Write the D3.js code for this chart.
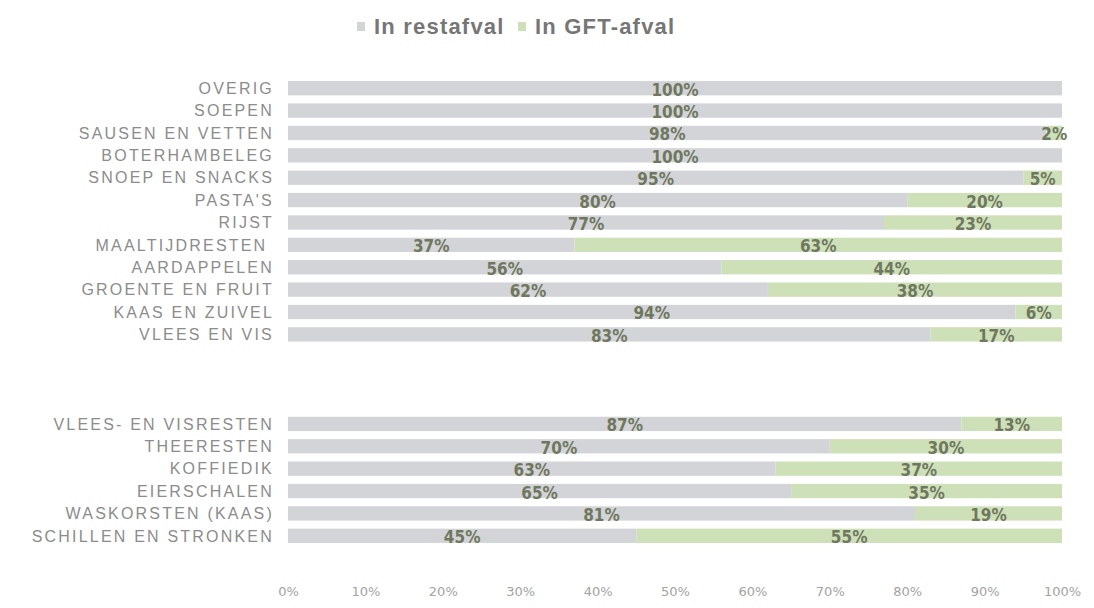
<!DOCTYPE html>
<html>
<head>
<meta charset="utf-8">
<script src="https://cdn.jsdelivr.net/npm/d3@7"></script>
<style>
  body { margin: 0; background: #fff; }
  svg { display: block; }
</style>
</head>
<body>
<svg id="chart" width="1094" height="608"></svg>
<script>
// two groups of categories, top to bottom
const foodCats = ['OVERIG', 'SOEPEN', 'SAUSEN EN VETTEN', 'BOTERHAMBELEG', 'SNOEP EN SNACKS',
    "PASTA'S", 'RIJST', 'MAALTIJDRESTEN ', 'AARDAPPELEN', 'GROENTE EN FRUIT', 'KAAS EN ZUIVEL', 'VLEES EN VIS'];
const foodRest = [100, 100, 98, 100, 95, 80, 77, 37, 56, 62, 94, 83];
const foodGft = [0, 0, 2, 0, 5, 20, 23, 63, 44, 38, 6, 17];

const restCats = ['VLEES- EN VISRESTEN', 'THEERESTEN', 'KOFFIEDIK', 'EIERSCHALEN', 'WASKORSTEN (KAAS)', 'SCHILLEN EN STRONKEN'];
const restRest = [87, 70, 63, 65, 81, 45];
const restGft = [13, 30, 37, 35, 19, 55];

const seriesNames = ['In restafval', 'In GFT-afval'];
const seriesColors = ['#d3d4d8', '#cde0b8'];
const xTicks = [0, 10, 20, 30, 40, 50, 60, 70, 80, 90, 100];

const svg = d3.select('#chart');

// rows: food group, three empty rows, rest group
const gapKeys = ['_gap1', '_gap2', '_gap3'];
const rows = foodCats.map((c, i) => ({cat: c, rest: foodRest[i], gft: foodGft[i]}))
    .concat(restCats.map((c, i) => ({cat: c, rest: restRest[i], gft: restGft[i]})));
const domain = foodCats.concat(gapKeys, restCats);

const x = d3.scaleLinear().domain([0, 100]).range([288, 1062]);
const y = d3.scaleBand().domain(domain).range([77, 547]).paddingInner(0.36).paddingOuter(0.18);

const g = svg.append('g');

// bars
const rowG = g.selectAll('.row').data(rows).enter().append('g')
    .attr('class', 'row')
    .attr('transform', d => 'translate(0,' + y(d.cat) + ')');

rowG.append('rect')
    .attr('x', x(0))
    .attr('width', d => x(d.rest) - x(0))
    .attr('height', y.bandwidth())
    .attr('fill', seriesColors[0]);

rowG.append('rect')
    .attr('x', d => x(d.rest))
    .attr('width', d => x(d.rest + d.gft) - x(d.rest))
    .attr('height', y.bandwidth())
    .attr('fill', seriesColors[1]);

// value labels
const labelStyle = sel => sel
    .attr('y', y.bandwidth() / 2 + 1)
    .attr('dy', '0.38em')
    .attr('text-anchor', 'middle')
    .style('font-family', '"DejaVu Sans Condensed", "Liberation Sans Narrow", Arial, sans-serif')
    .style('font-weight', 'bold')
    .style('font-size', '17px')
    .attr('fill', '#6f785f');

rowG.append('text')
    .call(labelStyle)
    .attr('x', d => (x(0) + x(d.rest)) / 2)
    .text(d => d.rest + '%');

rowG.filter(d => d.gft > 0).append('text')
    .call(labelStyle)
    .attr('x', d => (x(d.rest) + x(d.rest + d.gft)) / 2)
    .text(d => d.gft + '%');

// category labels
g.selectAll('.cat').data(rows).enter().append('text')
    .attr('class', 'cat')
    .attr('x', 274)
    .attr('y', d => y(d.cat) + y.bandwidth() / 2)
    .attr('dy', '0.36em')
    .attr('text-anchor', 'end')
    .style('white-space', 'pre')
    .style('font-family', '"Liberation Sans", Arial, sans-serif')
    .style('font-size', '16px')
    .style('letter-spacing', '2.2px')
    .attr('fill', '#8c8c8c')
    .text(d => d.cat);

// x axis (labels only)
const axis = g.append('g')
    .attr('transform', 'translate(0,593)')
    .call(d3.axisBottom(x).tickValues(xTicks).tickFormat(d => d + '%').tickSize(0));
axis.select('.domain').remove();
axis.selectAll('text')
    .attr('dy', 0)
    .style('font-family', '"DejaVu Sans", sans-serif')
    .style('font-size', '13px')
    .attr('fill', '#a3a3a3');

// legend
const legendX = [357, 518];
const legend = svg.selectAll('.legend').data(seriesNames).enter().append('g')
    .attr('class', 'legend')
    .attr('transform', (d, i) => 'translate(' + legendX[i] + ',26)');
legend.append('rect')
    .attr('x', 0).attr('y', -4)
    .attr('width', 8).attr('height', 9)
    .attr('fill', (d, i) => seriesColors[i]);
legend.append('text')
    .attr('x', 17)
    .attr('dy', '0.36em')
    .style('font-family', '"Liberation Sans", Arial, sans-serif')
    .style('font-weight', 'bold')
    .style('font-size', '22px')
    .style('letter-spacing', '1.2px')
    .attr('fill', '#767676')
    .text(d => d);
</script>
</body>
</html>
